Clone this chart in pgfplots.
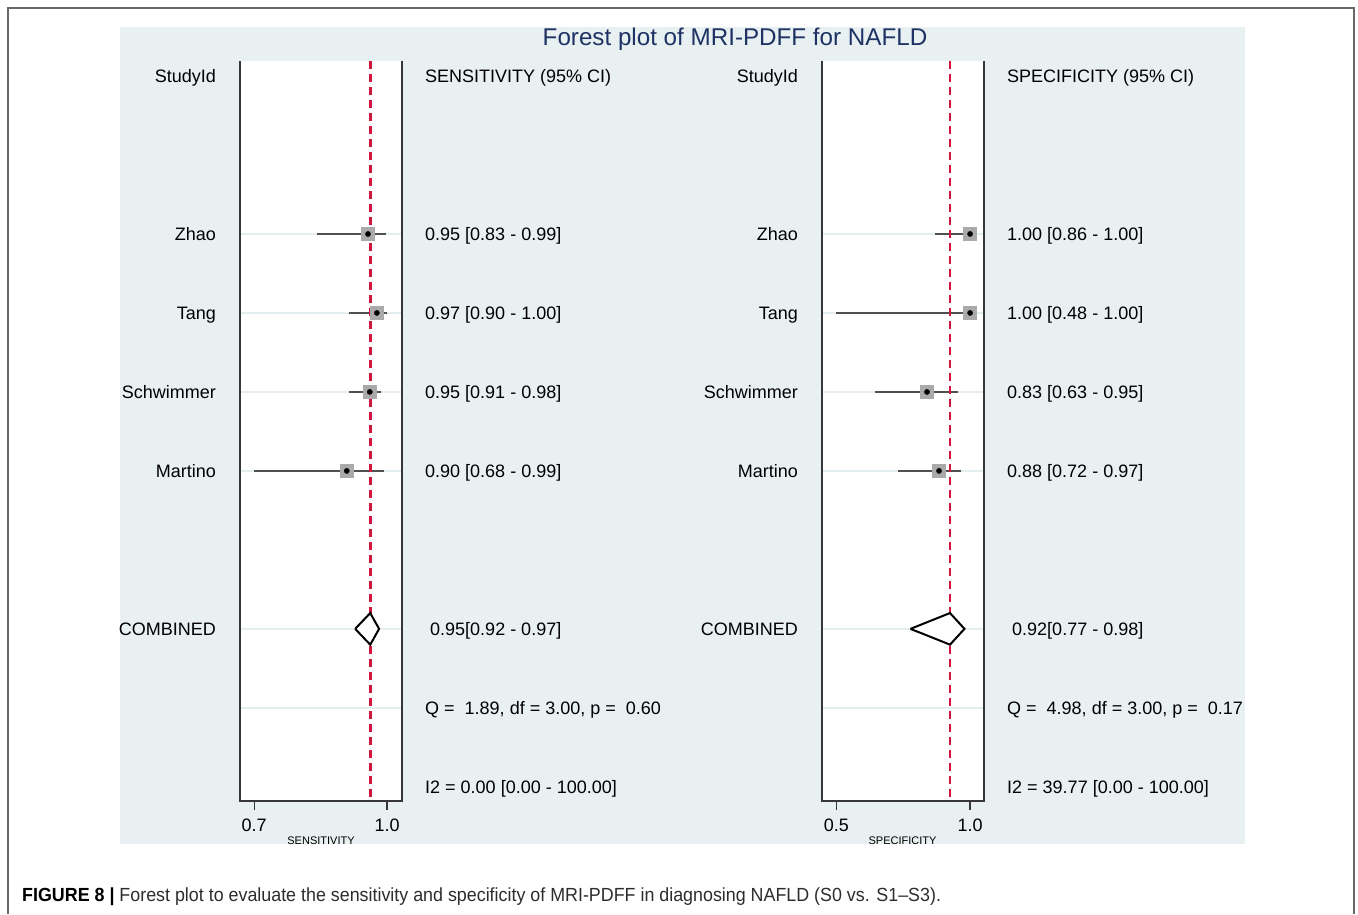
\documentclass[border=0pt]{standalone}
\usepackage{fontspec}
\setmainfont{Liberation Sans}
\newfontfamily\capfont[FakeStretch=0.94]{Liberation Sans}
\usepackage{pgfplots}
\pgfplotsset{compat=1.18}
\definecolor{bgpanel}{RGB}{232,240,242}
\definecolor{gridc}{RGB}{228,237,240}
\definecolor{refred}{RGB}{210,22,62}
\definecolor{titlec}{RGB}{30,50,100}
\definecolor{ciline}{RGB}{80,80,80}
\definecolor{sqgray}{RGB}{170,170,170}
\definecolor{axc}{RGB}{55,55,55}
\definecolor{framec}{RGB}{105,105,105}
\definecolor{capc}{RGB}{45,45,45}
\newcommand\fs[1]{\fontsize{#1}{#1}\selectfont}

\pgfplotsset{
  forest/.style={scale only axis, width=162pt, height=740pt, anchor=south west,
    y dir=reverse, ymin=-0.19, ymax=9.18,
    axis line style={draw=none}, axis background/.style={fill=white},
    ytick={2,3,4,5,7,8}, yticklabels={}, ytick style={draw=none},
    ymajorgrids, grid style={gridc, line width=1.5pt},
    xtick pos=bottom, tick align=outside, major tick length=9pt,
    xtick style={axc, line width=1.3pt},
    xticklabel style={font=\fs{18}, inner sep=0pt, yshift=-9pt},
    /pgf/number format/assume math mode=true},
  ci/.style={ciline, line width=1.4pt},
  refline/.style={refred, line width=2.6pt, dash pattern=on 8pt off 5pt},
  diam/.style={black, line width=2pt, line join=miter, fill=white},
  sq/.style={only marks, color=sqgray, mark=square*, mark size=6.5pt, mark options={fill=sqgray, draw=none}},
  dot/.style={only marks, color=black, mark=*, mark size=2.6pt, mark options={fill=black, draw=none}},
}

\begin{document}
\begin{tikzpicture}[lab/.style={anchor=base east, inner sep=0pt, font=\fs{18}},
  txt/.style={anchor=base west, inner sep=0pt, font=\fs{18}}]
\path[use as bounding box] (0pt,0pt) rectangle (1358pt,-914pt);
\fill[white] (0pt,0pt) rectangle (1358pt,-914pt);
\draw[framec, line width=1.3pt] (8pt,-914pt) -- (8pt,-8pt) -- (1354pt,-8pt) -- (1354pt,-914pt);
\fill[bgpanel] (120pt,-27pt) rectangle (1245pt,-844pt);

% ---------- Sensitivity ----------
\begin{axis}[forest, at={(240pt,-801pt)}, xmin=0.668, xmax=1.0337,
  xtick={0.7,1.0}, xticklabels={0.7,1.0}]
\addplot[ci] coordinates {(0.842,2) (0.998,2)};
\addplot[ci] coordinates {(0.913,3) (1.000,3)};
\addplot[ci] coordinates {(0.915,4) (0.987,4)};
\addplot[ci] coordinates {(0.700,5) (0.993,5)};
\addplot[refline] coordinates {(0.962,-0.19) (0.962,9.18)};
\addplot[diam] coordinates {(0.928,7) (0.962,6.8) (0.982,7) (0.962,7.2) (0.928,7)};
\addplot[sq] coordinates {(0.957,2) (0.977,3) (0.961,4) (0.909,5)};
\addplot[dot] coordinates {(0.957,2) (0.977,3) (0.961,4) (0.909,5)};
\end{axis}
\draw[axc, line width=1.5pt] (240pt,-61pt) -- (240pt,-801pt) -- (402pt,-801pt) -- (402pt,-61pt);

% ---------- Specificity ----------
\begin{axis}[forest, at={(822pt,-801pt)}, xmin=0.4465, xmax=1.052,
  xtick={0.5,1.0}, xticklabels={0.5,1.0}]
\addplot[ci] coordinates {(0.869,2) (1.000,2)};
\addplot[ci] coordinates {(0.500,3) (1.000,3)};
\addplot[ci] coordinates {(0.644,4) (0.954,4)};
\addplot[ci] coordinates {(0.731,5) (0.967,5)};
\addplot[refline] coordinates {(0.925,-0.19) (0.925,9.18)};
\addplot[diam] coordinates {(0.777,7) (0.925,6.8) (0.979,7) (0.925,7.2) (0.777,7)};
\addplot[sq] coordinates {(1.000,2) (1.000,3) (0.839,4) (0.884,5)};
\addplot[dot] coordinates {(1.000,2) (1.000,3) (0.839,4) (0.884,5)};
\end{axis}
\draw[axc, line width=1.5pt] (822pt,-61pt) -- (822pt,-801pt) -- (984pt,-801pt) -- (984pt,-61pt);

% ---------- texts ----------
\node[anchor=base, inner sep=0pt, font=\fs{24.2}, text=titlec] at (735pt,-45.5pt) {Forest plot of MRI-PDFF for NAFLD};

\node[lab] at (216pt,-82.4pt) {StudyId};
\node[lab] at (216pt,-240.4pt) {Zhao};
\node[lab] at (216pt,-319.4pt) {Tang};
\node[lab] at (216pt,-398.4pt) {Schwimmer};
\node[lab] at (216pt,-477.4pt) {Martino};
\node[lab] at (216pt,-635.4pt) {COMBINED};

\node[txt] at (425pt,-82.4pt) {SENSITIVITY (95\% CI)};
\node[txt] at (425pt,-240.4pt) {0.95 [0.83 - 0.99]};
\node[txt] at (425pt,-319.4pt) {0.97 [0.90 - 1.00]};
\node[txt] at (425pt,-398.4pt) {0.95 [0.91 - 0.98]};
\node[txt] at (425pt,-477.4pt) {0.90 [0.68 - 0.99]};
\node[txt] at (430pt,-635.4pt) {0.95[0.92 - 0.97]};
\node[txt] at (425pt,-714.4pt) {Q =\ \ 1.89, df = 3.00, p =\ \ 0.60};
\node[txt] at (425pt,-793.4pt) {I2 = 0.00 [0.00 - 100.00]};

\node[lab] at (798pt,-82.4pt) {StudyId};
\node[lab] at (798pt,-240.4pt) {Zhao};
\node[lab] at (798pt,-319.4pt) {Tang};
\node[lab] at (798pt,-398.4pt) {Schwimmer};
\node[lab] at (798pt,-477.4pt) {Martino};
\node[lab] at (798pt,-635.4pt) {COMBINED};

\node[txt] at (1007pt,-82.4pt) {SPECIFICITY (95\% CI)};
\node[txt] at (1007pt,-240.4pt) {1.00 [0.86 - 1.00]};
\node[txt] at (1007pt,-319.4pt) {1.00 [0.48 - 1.00]};
\node[txt] at (1007pt,-398.4pt) {0.83 [0.63 - 0.95]};
\node[txt] at (1007pt,-477.4pt) {0.88 [0.72 - 0.97]};
\node[txt] at (1012pt,-635.4pt) {0.92[0.77 - 0.98]};
\node[txt] at (1007pt,-714.4pt) {Q =\ \ 4.98, df = 3.00, p =\ \ 0.17};
\node[txt] at (1007pt,-793.4pt) {I2 = 39.77 [0.00 - 100.00]};

\node[anchor=base, inner sep=0pt, font=\fs{11}] at (321pt,-844pt) {SENSITIVITY};
\node[anchor=base, inner sep=0pt, font=\fs{11}] at (902.5pt,-844pt) {SPECIFICITY};

\node[anchor=base west, inner sep=0pt, font=\capfont\fs{19}, text=capc] at (22pt,-901pt)
  {\textbf{\color{black}FIGURE 8 |} Forest plot to evaluate the sensitivity and specificity of MRI-PDFF in diagnosing NAFLD (S0 vs. S1–S3).};
\end{tikzpicture}
\end{document}
